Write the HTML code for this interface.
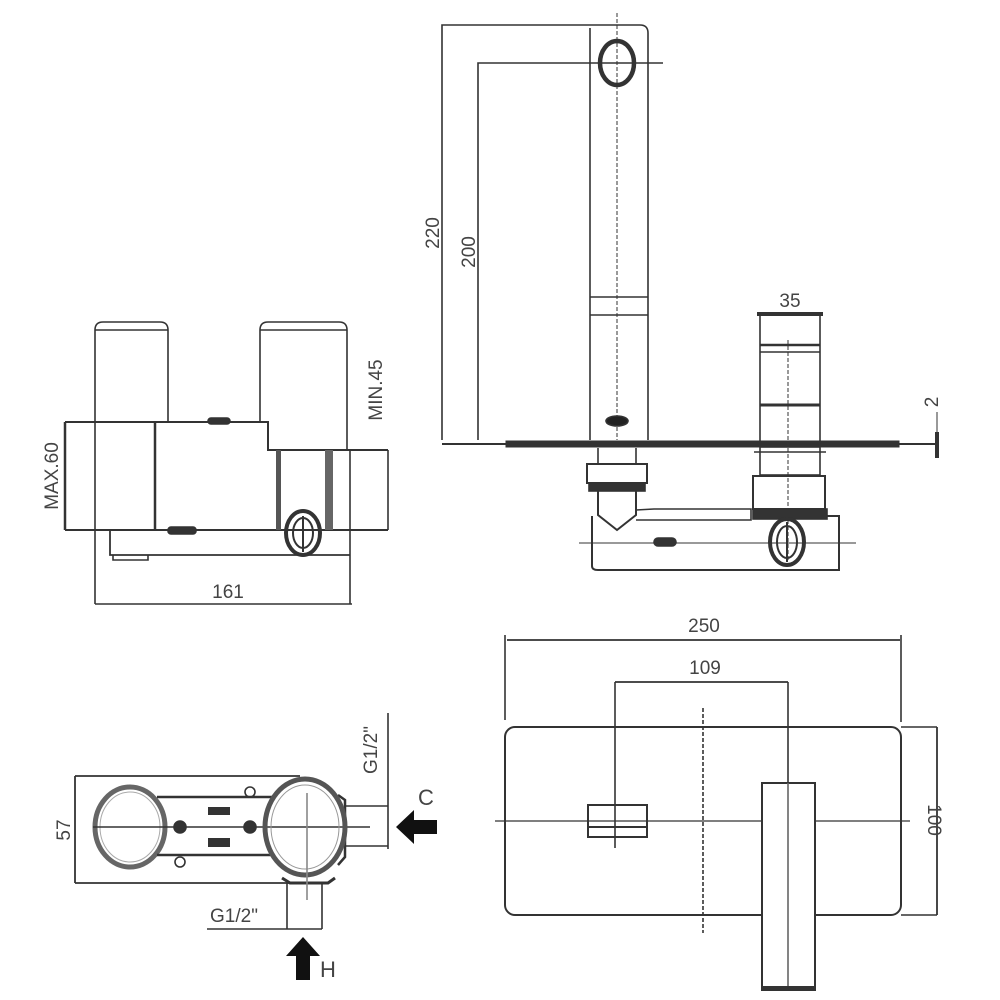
<!DOCTYPE html>
<html><head><meta charset="utf-8"><style>
html,body{margin:0;padding:0;background:#fff;}
svg{display:block}
text{font-family:"Liberation Sans",sans-serif;font-size:19px;fill:#444;}
</style></head><body>
<svg width="1000" height="1000" viewBox="0 0 1000 1000" xmlns="http://www.w3.org/2000/svg" fill="none" stroke="#333" stroke-width="1.6">
<!-- ===== TOP RIGHT: side elevation ===== -->
<!-- dims 220 / 200 -->
<path d="M442 440 V25 H640 Q648 25 648 33"/>
<path d="M478 440 V63 H663"/>
<text x="0" y="0" transform="translate(439,233) rotate(-90)" text-anchor="middle" stroke="none">220</text>
<text x="0" y="0" transform="translate(475,252) rotate(-90)" text-anchor="middle" stroke="none">200</text>
<!-- spout -->
<path d="M590 28 V440 M648 33 V440"/>
<line x1="617" y1="13" x2="617" y2="440" stroke-dasharray="4 2" stroke-width="1"/>
<ellipse cx="617" cy="63" rx="17" ry="22" stroke-width="4.5"/>
<line x1="590" y1="297" x2="648" y2="297"/>
<line x1="590" y1="315" x2="648" y2="315"/>
<ellipse cx="617" cy="421" rx="11" ry="5" fill="#222"/>
<!-- plate -->
<line x1="442" y1="444" x2="938" y2="444" stroke-width="2"/>
<path d="M506 441 H899 L899 447 H506 Z" fill="#333" stroke-width="1"/>
<line x1="937" y1="432" x2="937" y2="458" stroke-width="4"/>
<line x1="937" y1="412" x2="937" y2="432" stroke-width="1"/>
<text x="0" y="0" transform="translate(938,402) rotate(-90)" text-anchor="middle" stroke="none">2</text>
<!-- handle -->
<rect x="760" y="314" width="60" height="130"/>
<line x1="757" y1="314" x2="823" y2="314" stroke-width="4"/>
<text x="790" y="307" text-anchor="middle" stroke="none">35</text>
<line x1="760" y1="345" x2="820" y2="345" stroke-width="2.5"/>
<line x1="760" y1="352" x2="820" y2="352"/>
<line x1="760" y1="405" x2="820" y2="405" stroke-width="3"/>
<line x1="788" y1="340" x2="788" y2="560" stroke-dasharray="4 2" stroke-width="1"/>
<rect x="760" y="447" width="60" height="28"/>
<line x1="754" y1="452" x2="826" y2="452"/>
<rect x="753" y="476" width="72" height="33" stroke-width="2"/>
<!-- spout fitting below -->
<rect x="587" y="464" width="60" height="19" stroke-width="2"/>
<line x1="598" y1="448" x2="598" y2="464"/><line x1="636" y1="448" x2="636" y2="464"/>
<rect x="589" y="483" width="56" height="8" fill="#333"/>
<path d="M598 491 V515 L617 530 L636 515 V491" stroke-width="2"/>
<!-- body -->
<path d="M592 516 V566 Q592 570 598 570 H839 V516 H822" stroke-width="2"/>
<path d="M636 510 L654 509 H751 V520 H654 L636 520" stroke-width="1.6"/>
<rect x="753" y="509" width="74" height="10" fill="#333"/>
<line x1="579" y1="543" x2="856" y2="543" stroke-width="1"/>
<rect x="654" y="538" width="22" height="8" rx="4" fill="#333"/>
<ellipse cx="787" cy="542" rx="17" ry="23" stroke-width="4"/>
<ellipse cx="787" cy="542" rx="10" ry="16" stroke-width="2"/>
<line x1="787" y1="522" x2="787" y2="562" stroke-width="2"/>

<!-- ===== LEFT: front elevation ===== -->
<path d="M95 604 V330 Q95 322 103 322 H160 Q168 322 168 330 V422"/>
<line x1="95" y1="330" x2="168" y2="330"/>
<path d="M260 422 V330 Q260 322 268 322 H339 Q347 322 347 330 V450"/>
<line x1="260" y1="330" x2="347" y2="330"/>
<path d="M65 422 H268 V450 H388 M65 530 H388" stroke-width="2"/>
<line x1="65" y1="422" x2="65" y2="530" stroke-width="2.5"/>
<line x1="155" y1="422" x2="155" y2="530" stroke-width="2.5"/>
<rect x="208" y="418" width="22" height="6" rx="3" fill="#333"/>
<rect x="168" y="527" width="28" height="7" rx="3" fill="#333"/>
<text x="0" y="0" transform="translate(58,476) rotate(-90)" text-anchor="middle" stroke="none">MAX.60</text>
<line x1="388" y1="450" x2="388" y2="530"/>
<text x="0" y="0" transform="translate(382,390) rotate(-90)" text-anchor="middle" stroke="none">MIN.45</text>
<rect x="276" y="450" width="5" height="80" fill="#555" stroke="none"/>
<rect x="325" y="450" width="8" height="80" fill="#666" stroke="none"/>
<line x1="350" y1="450" x2="350" y2="604"/>
<path d="M110 530 V555 H350" stroke-width="1.8"/>
<path d="M113 555 V560 H148 V555"/>
<ellipse cx="303" cy="533" rx="17" ry="22" stroke-width="4"/>
<ellipse cx="303" cy="533" rx="10" ry="15" stroke-width="2"/>
<line x1="303" y1="516" x2="303" y2="552" stroke-width="2"/>
<line x1="95" y1="604" x2="352" y2="604"/>
<text x="228" y="598" text-anchor="middle" stroke="none">161</text>

<!-- ===== BOTTOM LEFT: plan ===== -->
<path d="M75 776 H300 M75 883 H290" stroke-width="1.8"/>
<line x1="75" y1="776" x2="75" y2="883" stroke-width="1.8"/>
<text x="0" y="0" transform="translate(70,830) rotate(-90)" text-anchor="middle" stroke="none">57</text>
<ellipse cx="130" cy="827" rx="35" ry="40" stroke="#666" stroke-width="5"/>
<ellipse cx="130" cy="827" rx="30" ry="35" stroke="#aaa" stroke-width="1"/>
<line x1="157" y1="797" x2="273" y2="797" stroke-width="2.5"/>
<line x1="157" y1="855" x2="273" y2="855" stroke-width="2.5"/>
<line x1="93" y1="827" x2="370" y2="827"/>
<circle cx="180" cy="827" r="6" fill="#333"/>
<circle cx="250" cy="827" r="6" fill="#333"/>
<circle cx="250" cy="792" r="5"/><circle cx="180" cy="862" r="5"/>
<rect x="208" y="807" width="22" height="8" fill="#333" stroke="none"/>
<rect x="208" y="838" width="22" height="9" fill="#333" stroke="none"/>
<path d="M338 795 L345 800 V857 L338 865" stroke-width="2.5"/>
<path d="M282 878 L290 883 H328 L335 878" stroke-width="3"/>
<ellipse cx="305" cy="827" rx="40" ry="48" stroke="#555" stroke-width="5"/>
<ellipse cx="305" cy="827" rx="34" ry="42" stroke="#999" stroke-width="1"/>
<line x1="307" y1="793" x2="307" y2="900" stroke="#888"/>
<path d="M345 806 H388 M345 846 H388"/>
<line x1="388" y1="713" x2="388" y2="849"/>
<text x="0" y="0" transform="translate(377,750) rotate(-90)" text-anchor="middle" stroke="none">G1/2"</text>
<path d="M396 827 L414 810 V820 H437 V834 H414 V844 Z" fill="#111" stroke="none"/>
<text x="418" y="805" stroke="none" style="font-size:22px">C</text>
<path d="M287 883 V929 M322 883 V929"/>
<line x1="207" y1="929" x2="322" y2="929"/>
<text x="210" y="922" stroke="none">G1/2"</text>
<path d="M303 937 L286 956 H296 V980 H310 V956 H320 Z" fill="#111" stroke="none"/>
<text x="320" y="977" stroke="none" style="font-size:22px">H</text>

<!-- ===== BOTTOM RIGHT: wall plate ===== -->
<line x1="507" y1="640" x2="900" y2="640" stroke-width="1.8"/>
<line x1="505" y1="635" x2="505" y2="720"/>
<line x1="901" y1="635" x2="901" y2="722"/>
<text x="704" y="632" text-anchor="middle" stroke="none">250</text>
<line x1="615" y1="682" x2="788" y2="682" stroke-width="1.8"/>
<line x1="615" y1="682" x2="615" y2="848"/>
<line x1="788" y1="682" x2="788" y2="990"/>
<text x="705" y="674" text-anchor="middle" stroke="none">109</text>
<rect x="505" y="727" width="396" height="188" rx="10" stroke-width="2"/>
<line x1="703" y1="708" x2="703" y2="933" stroke-dasharray="4 2"/>
<line x1="495" y1="821" x2="910" y2="821" stroke-width="1.2"/>
<rect x="588" y="805" width="59" height="32" stroke-width="2"/>
<line x1="588" y1="827" x2="647" y2="827" stroke-width="2"/>
<rect x="762" y="783" width="53" height="207" stroke-width="2" fill="#fff"/>
<line x1="788" y1="783" x2="788" y2="990" stroke="#666"/>
<line x1="762" y1="988" x2="815" y2="988" stroke-width="4"/>
<line x1="901" y1="727" x2="937" y2="727"/>
<line x1="901" y1="915" x2="937" y2="915"/>
<line x1="937" y1="727" x2="937" y2="915" stroke-width="1.8"/>
<text x="0" y="0" transform="translate(928,820) rotate(90)" text-anchor="middle" stroke="none">100</text>
</svg>
</body></html>
